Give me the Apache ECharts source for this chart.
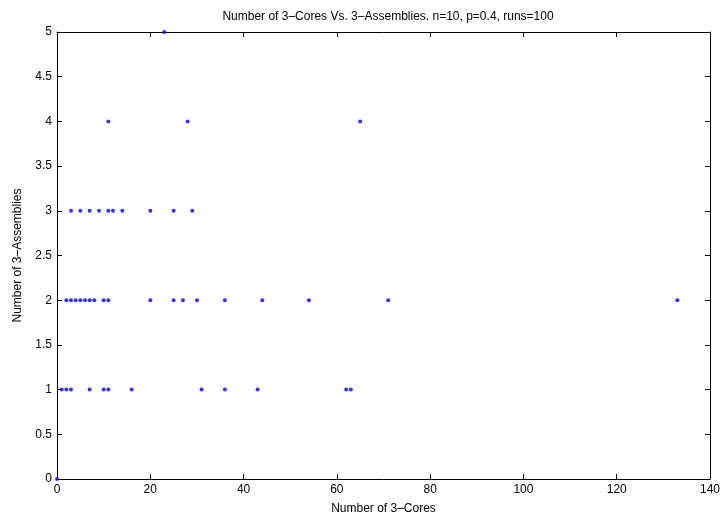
<!DOCTYPE html>
<html>
<head>
<meta charset="utf-8">
<script src="https://cdn.jsdelivr.net/npm/echarts@6/dist/echarts.min.js"></script>
<style>
html,body{margin:0;padding:0;background:#fff;}
#chart{width:726px;height:521px;}
</style>
</head>
<body>
<div id="chart"></div>
<script>
// Number of 3-Cores for each count of 3-Assemblies
var cores0 = [0];
var cores1 = [1, 2, 3, 7, 10, 11, 16, 31, 36, 43, 62, 63];
var cores2 = [2, 3, 4, 5, 6, 7, 8, 10, 11, 20, 25, 27, 30, 36, 44, 54, 71, 133];
var cores3 = [3, 5, 7, 9, 11, 12, 14, 20, 25, 29];
var cores4 = [11, 28, 65];
var cores5 = [23];
var assemblyLevels = [0, 1, 2, 3, 4, 5];

var groups = [cores0, cores1, cores2, cores3, cores4, cores5];
var points = [];
groups.forEach(function (g, i) {
  g.forEach(function (x) { points.push([x, assemblyLevels[i]]); });
});

var fontFam = '"Liberation Sans", Arial, Helvetica, sans-serif';
var chart = echarts.init(document.getElementById('chart'), null, {renderer: 'canvas'});
var axisLineStyle = {color: '#000', width: 1};
chart.setOption({
  animation: false,
  backgroundColor: '#fff',
  title: {
    text: 'Number of 3\u2013Cores Vs. 3\u2013Assemblies. n=10, p=0.4, runs=100',
    left: 383, top: 6, textAlign: 'center',
    textStyle: {fontFamily: fontFam, fontSize: 12, fontWeight: 'normal', color: '#000'}
  },
  grid: {left: 57, right: 16, top: 32, bottom: 42, containLabel: false},
  xAxis: [{
    type: 'value', min: 0, max: 140, interval: 20,
    name: 'Number of 3\u2013Cores', nameLocation: 'middle', nameGap: 24,
    nameTextStyle: {fontFamily: fontFam, fontSize: 12, color: '#000'},
    axisLine: {show: true, onZero: false, lineStyle: axisLineStyle},
    axisTick: {show: true, inside: true, length: 5, lineStyle: axisLineStyle},
    axisLabel: {fontFamily: fontFam, fontSize: 12, color: '#000', margin: 5},
    splitLine: {show: false}
  }, {
    type: 'value', min: 0, max: 140, interval: 20, position: 'top',
    axisLine: {show: true, onZero: false, lineStyle: axisLineStyle},
    axisTick: {show: true, inside: true, length: 5, lineStyle: axisLineStyle},
    axisLabel: {show: false}, splitLine: {show: false}
  }],
  yAxis: [{
    type: 'value', min: 0, max: 5, interval: 0.5,
    name: 'Number of 3\u2013Assemblies', nameLocation: 'middle', nameGap: 33,
    nameTextStyle: {fontFamily: fontFam, fontSize: 12, color: '#000'},
    axisLine: {show: true, onZero: false, lineStyle: axisLineStyle},
    axisTick: {show: true, inside: true, length: 5, lineStyle: axisLineStyle},
    axisLabel: {fontFamily: fontFam, fontSize: 12, color: '#000', margin: 5},
    splitLine: {show: false}
  }, {
    type: 'value', min: 0, max: 5, interval: 0.5, position: 'right',
    axisLine: {show: true, onZero: false, lineStyle: axisLineStyle},
    axisTick: {show: true, inside: true, length: 5, lineStyle: axisLineStyle},
    axisLabel: {show: false}, splitLine: {show: false}
  }],
  series: [{
    type: 'scatter',
    xAxisIndex: 0, yAxisIndex: 0,
    symbol: 'circle', symbolSize: 4,
    itemStyle: {color: '#0000ff'},
    clip: true,
    data: points
  }]
});
</script>
</body>
</html>
